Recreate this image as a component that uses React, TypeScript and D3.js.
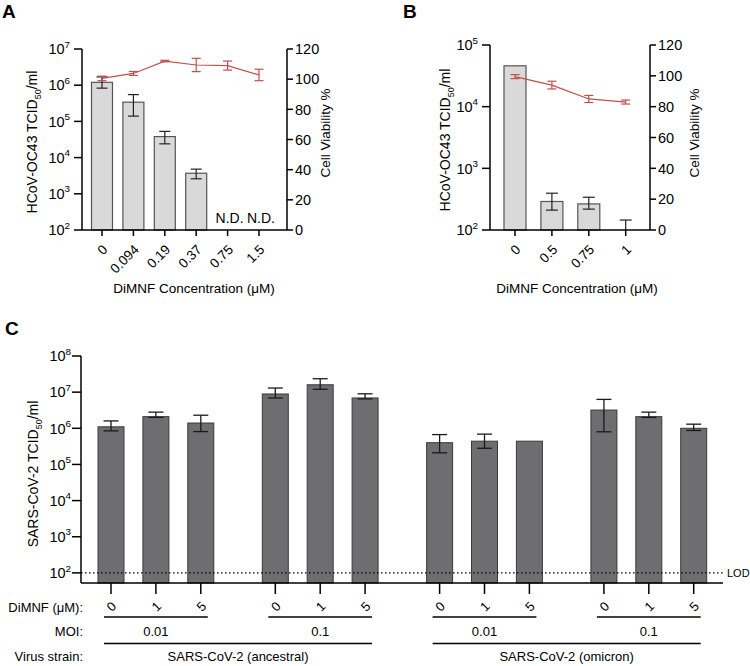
import React from 'react';
import * as d3 from 'd3';

const FONT = '"Liberation Sans", Arial, Helvetica, sans-serif';
const RED = '#c0504d';

// ---------- Panel A ----------
const concA = ['0', '0.094', '0.19', '0.37', '0.75', '1.5'];
const titerA = [1.2e6, 3.4e5, 3.8e4, 3.7e3, NaN, NaN];
const titerALo = [8.3e5, 1.4e5, 2.4e4, 2.6e3, NaN, NaN];
const titerAHi = [1.7e6, 5.5e5, 5.3e4, 4.8e3, NaN, NaN];
const viabA = [100.5, 103.8, 112, 109.4, 109, 102.8];
const viabAErr = [1.5, 1.3, 0.5, 4.4, 3, 3.8];
const ndA = ['', '', '', '', 'N.D.', 'N.D.'];
const logTicksA = [1e2, 1e3, 1e4, 1e5, 1e6, 1e7];

// ---------- Panel B ----------
const concB = ['0', '0.5', '0.75', '1'];
const titerB = [4.6e4, 290, 265, NaN];
const titerBLo = [NaN, 210, 218, 100];
const titerBHi = [NaN, 395, 340, 145];
const viabB = [99.5, 94, 85, 83];
const viabBErr = [1.3, 2.5, 2.3, 1.3];
const ndB = ['', '', '', ''];
const logTicksB = [1e2, 1e3, 1e4, 1e5];

const viabTicks = [0, 20, 40, 60, 80, 100, 120];

// ---------- Panel C ----------
const strainsC = ['SARS-CoV-2 (ancestral)', 'SARS-CoV-2 (omicron)'];
const moiC = ['0.01', '0.1', '0.01', '0.1'];
const dosesC = ['0', '1', '5'];
const titerC = [1.1e6, 2.1e6, 1.4e6, 8.9e6, 1.6e7, 6.9e6, 4.0e5, 4.4e5, 4.4e5, 3.2e6, 2.1e6, 1.0e6];
const titerCLo = [8.5e5, 2.0e6, 8.1e5, 6.9e6, 1.2e7, 6.5e6, 2.1e5, 2.8e5, NaN, 8.0e5, 2.0e6, 8.7e5];
const titerCHi = [1.6e6, 2.8e6, 2.3e6, 1.3e7, 2.35e7, 9.0e6, 6.7e5, 6.9e5, NaN, 6.3e6, 2.8e6, 1.3e6];
const logTicksC = [1e2, 1e3, 1e4, 1e5, 1e6, 1e7, 1e8];
const LOD = 1e2;

const TICK_FS = 14.5;

function Pow({ x, y, v, fs }: { x: number; y: number; v: number; fs: number }) {
  const e = Math.round(Math.log10(v));
  return (
    <text x={x} y={y} dy="0.36em" textAnchor="end" fontSize={fs}>
      10
      <tspan dy={-fs * 0.45} fontSize={fs * 0.68}>
        {e}
      </tspan>
    </text>
  );
}

const C45 = Math.SQRT1_2;
function RotLabel({ x, y, text, fs }: { x: number; y: number; text: string; fs: number }) {
  return (
    <text
      transform={`matrix(${C45},${-C45},${C45},${C45},${x},${y})`}
      x={0}
      y={0}
      textAnchor="end"
      dy="0.35em"
      fontSize={fs}
    >
      {text}
    </text>
  );
}

type DualCfg = {
  cats: string[];
  titer: number[];
  lo: number[];
  hi: number[];
  viab: number[];
  viabErr: number[];
  nd: string[];
  logTicks: number[];
  axL: number;
  axR: number;
  xFirst: number;
  xLast: number;
  yTop: number;
  yBot: number;
  barW: number;
  capW: number;
  leftTitleX: number;
  leftTitleY: number;
  rightTitleX: number;
  rightTitleY: number;
  xTitleX: number;
  label: string;
  labelX: number;
};

function DualPanel(c: DualCfg) {
  const x = d3.scalePoint<string>().domain(c.cats).range([c.xFirst, c.xLast]);
  const y = d3
    .scaleLog()
    .domain([c.logTicks[0], c.logTicks[c.logTicks.length - 1]])
    .range([c.yBot, c.yTop]);
  const v = d3.scaleLinear().domain([0, 120]).range([c.yBot, c.yTop]);
  const line = d3
    .line<number>()
    .x((_, i) => x(c.cats[i]) as number)
    .y((d) => v(d));
  return (
    <g>
      <text x={c.labelX} y={18} fontSize={19} fontWeight="bold">
        {c.label}
      </text>
      {c.cats.map((k, i) =>
        isNaN(c.titer[i]) ? null : (
          <rect
            key={'b' + k}
            x={(x(k) as number) - c.barW / 2}
            y={y(c.titer[i])}
            width={c.barW}
            height={c.yBot - y(c.titer[i])}
            fill="#d9d9d9"
            stroke="#555"
            strokeWidth={1.2}
          />
        )
      )}
      {c.cats.map((k, i) => {
        if (isNaN(c.hi[i])) return null;
        const cx = x(k) as number;
        const y1 = y(c.hi[i]);
        const y0 = y(c.lo[i]);
        return (
          <g key={'e' + k} stroke="#222" strokeWidth={1.2}>
            <line x1={cx} x2={cx} y1={y1} y2={y0} />
            <line x1={cx - c.capW / 2} x2={cx + c.capW / 2} y1={y1} y2={y1} />
            {y0 < c.yBot - 1 && <line x1={cx - c.capW / 2} x2={cx + c.capW / 2} y1={y0} y2={y0} />}
          </g>
        );
      })}
      {c.cats.map((k, i) =>
        c.nd[i] ? (
          <text key={'nd' + k} x={(x(k) as number) + 2} y={c.yBot - 7} textAnchor="middle" fontSize={14}>
            {c.nd[i]}
          </text>
        ) : null
      )}
      <path d={line(c.viab) as string} fill="none" stroke={RED} strokeWidth={1.2} />
      {c.cats.map((k, i) => {
        const cx = x(k) as number;
        const y1 = v(c.viab[i] + c.viabErr[i]);
        const y0 = v(c.viab[i] - c.viabErr[i]);
        return (
          <g key={'v' + k} stroke={RED} strokeWidth={1.2}>
            <line x1={cx} x2={cx} y1={y1} y2={y0} />
            <line x1={cx - 4.5} x2={cx + 4.5} y1={y1} y2={y1} />
            <line x1={cx - 4.5} x2={cx + 4.5} y1={y0} y2={y0} />
          </g>
        );
      })}
      <g stroke="#000" strokeWidth={1.5} fill="none">
        <line x1={c.axL} x2={c.axL} y1={c.yTop} y2={c.yBot} />
        <line x1={c.axR} x2={c.axR} y1={c.yTop} y2={c.yBot} />
        <line x1={c.axL} x2={c.axR} y1={c.yBot} y2={c.yBot} />
        {c.logTicks.map((t) => (
          <line key={'lt' + t} x1={c.axL - 8} x2={c.axL} y1={y(t)} y2={y(t)} />
        ))}
        {viabTicks.map((t) => (
          <line key={'rt' + t} x1={c.axR} x2={c.axR + 6} y1={v(t)} y2={v(t)} />
        ))}
        {c.cats.map((k) => (
          <line key={'xt' + k} x1={x(k) as number} x2={x(k) as number} y1={c.yBot} y2={c.yBot + 6} />
        ))}
      </g>
      {c.logTicks.map((t) => (
        <Pow key={'ll' + t} x={c.axL - 12} y={y(t)} v={t} fs={TICK_FS} />
      ))}
      {viabTicks.map((t) => (
        <text key={'rl' + t} x={c.axR + 8} y={v(t)} dy="0.36em" fontSize={TICK_FS}>
          {t}
        </text>
      ))}
      {c.cats.map((k) => (
        <RotLabel key={'xl' + k} x={(x(k) as number) + 3} y={c.yBot + 17} text={k} fs={13.5} />
      ))}
      <text x={c.xTitleX} y={293} textAnchor="middle" fontSize={13.5}>
        DiMNF Concentration (μM)
      </text>
      <text transform={`translate(${c.leftTitleX},${c.leftTitleY}) rotate(-90)`} textAnchor="middle" dy="0.35em" fontSize={14}>
        HCoV-OC43 TCID
        <tspan dy={4} fontSize={9}>
          50
        </tspan>
        <tspan dy={-4}>/ml</tspan>
      </text>
      <text transform={`translate(${c.rightTitleX},${c.rightTitleY}) rotate(-90)`} textAnchor="middle" dy="0.35em" fontSize={13.5}>
        Cell Viability %
      </text>
    </g>
  );
}

function PanelC() {
  const axL = 81;
  const axEnd = 723;
  const yBot = 583;
  const yTop = 356;
  const gapSlots = 0.66;
  const nG = moiC.length;
  const slot = (g: number, i: number) => g * (dosesC.length + gapSlots) + i;
  const x = d3
    .scaleLinear()
    .domain([0, slot(nG - 1, dosesC.length - 1)])
    .range([111, 693.7]);
  const y = d3.scaleLog().domain([52.5, 1e8]).range([yBot, yTop]);
  const barW = 26;
  const capW = 15;
  const fs = 13;
  const rowDose = 604;
  const rowMoi = 631.5;
  const rowStrain = 656.5;
  return (
    <g>
      <text x={5} y={335} fontSize={19} fontWeight="bold">
        C
      </text>
      {titerC.map((val, idx) => {
        const g = Math.floor(idx / dosesC.length);
        const i = idx % dosesC.length;
        const cx = x(slot(g, i));
        return (
          <g key={'c' + idx}>
            <rect x={cx - barW / 2} y={y(val)} width={barW} height={yBot - y(val)} fill="#6e6e70" stroke="#3a3a3a" strokeWidth={1} />
            {!isNaN(titerCHi[idx]) && (
              <g stroke="#1a1a1a" strokeWidth={1.3}>
                <line x1={cx} x2={cx} y1={y(titerCHi[idx])} y2={y(titerCLo[idx])} />
                <line x1={cx - capW / 2} x2={cx + capW / 2} y1={y(titerCHi[idx])} y2={y(titerCHi[idx])} />
                <line x1={cx - capW / 2} x2={cx + capW / 2} y1={y(titerCLo[idx])} y2={y(titerCLo[idx])} />
              </g>
            )}
          </g>
        );
      })}
      <line x1={axL} x2={axEnd} y1={y(LOD)} y2={y(LOD)} stroke="#000" strokeWidth={1.2} strokeDasharray="1.5,2.5" />
      <text x={axEnd + 4} y={y(LOD)} dy="0.35em" fontSize={11}>
        LOD
      </text>
      <g stroke="#000" strokeWidth={1.5}>
        <line x1={axL} x2={axL} y1={yTop} y2={yBot} />
        <line x1={axL} x2={axEnd} y1={yBot} y2={yBot} />
        {logTicksC.map((t) => (
          <line key={'ct' + t} x1={axL - 9} x2={axL} y1={y(t)} y2={y(t)} />
        ))}
        {titerC.map((_, idx) => {
          const cx = x(slot(Math.floor(idx / 3), idx % 3));
          return <line key={'cx' + idx} x1={cx} x2={cx} y1={yBot} y2={yBot + 11} />;
        })}
      </g>
      {logTicksC.map((t) => (
        <Pow key={'cl' + t} x={axL - 10} y={y(t)} v={t} fs={TICK_FS} />
      ))}
      <text transform={`translate(33,474) rotate(-90)`} textAnchor="middle" dy="0.35em" fontSize={14}>
        SARS-CoV-2 TCID
        <tspan dy={4} fontSize={9}>
          50
        </tspan>
        <tspan dy={-4}>/ml</tspan>
      </text>
      {titerC.map((_, idx) => {
        const cx = x(slot(Math.floor(idx / 3), idx % 3));
        return <RotLabel key={'dl' + idx} x={cx + 3} y={rowDose} text={dosesC[idx % 3]} fs={fs} />;
      })}
      <text x={83} y={rowDose + 3} dy="0.35em" textAnchor="end" fontSize={fs}>
        DiMNF (μM):
      </text>
      <text x={83} y={rowMoi} dy="0.35em" textAnchor="end" fontSize={fs}>
        MOI:
      </text>
      <text x={83} y={rowStrain} dy="0.35em" textAnchor="end" fontSize={fs}>
        Virus strain:
      </text>
      {moiC.map((m, g) => {
        const a = x(slot(g, 0));
        const b = x(slot(g, dosesC.length - 1));
        return (
          <g key={'m' + g}>
            <line x1={a - 7} x2={b + 7} y1={617} y2={617} stroke="#000" strokeWidth={1.3} />
            <text x={(a + b) / 2} y={rowMoi} dy="0.35em" textAnchor="middle" fontSize={fs}>
              {m}
            </text>
          </g>
        );
      })}
      {strainsC.map((s, k) => {
        const a = x(slot(k * 2, 0));
        const b = x(slot(k * 2 + 1, dosesC.length - 1));
        return (
          <g key={'s' + k}>
            <line x1={a - 7} x2={b + 7} y1={643.5} y2={643.5} stroke="#000" strokeWidth={1.3} />
            <text x={(a + b) / 2} y={rowStrain} dy="0.35em" textAnchor="middle" fontSize={fs}>
              {s}
            </text>
          </g>
        );
      })}
    </g>
  );
}

export default function App() {
  return (
    <svg
      width={750}
      height={666}
      style={{ position: 'absolute', left: 0, top: 0, background: '#fff' }}
      fontFamily={FONT}
    >
      <rect width={750} height={666} fill="#fff" />
      <DualPanel
        cats={concA}
        titer={titerA}
        lo={titerALo}
        hi={titerAHi}
        viab={viabA}
        viabErr={viabAErr}
        nd={ndA}
        logTicks={logTicksA}
        axL={82}
        axR={287}
        xFirst={102}
        xLast={259}
        yTop={49}
        yBot={230}
        barW={21}
        capW={11}
        leftTitleX={32}
        leftTitleY={142}
        rightTitleX={325}
        rightTitleY={133}
        xTitleX={194}
        label="A"
        labelX={2}
      />
      <DualPanel
        cats={concB}
        titer={titerB}
        lo={titerBLo}
        hi={titerBHi}
        viab={viabB}
        viabErr={viabBErr}
        nd={ndB}
        logTicks={logTicksB}
        axL={490}
        axR={650}
        xFirst={515}
        xLast={625.7}
        yTop={45}
        yBot={230}
        barW={22}
        capW={12}
        leftTitleX={445}
        leftTitleY={140}
        rightTitleX={694}
        rightTitleY={133}
        xTitleX={577}
        label="B"
        labelX={403}
      />
      <PanelC />
    </svg>
  );
}
